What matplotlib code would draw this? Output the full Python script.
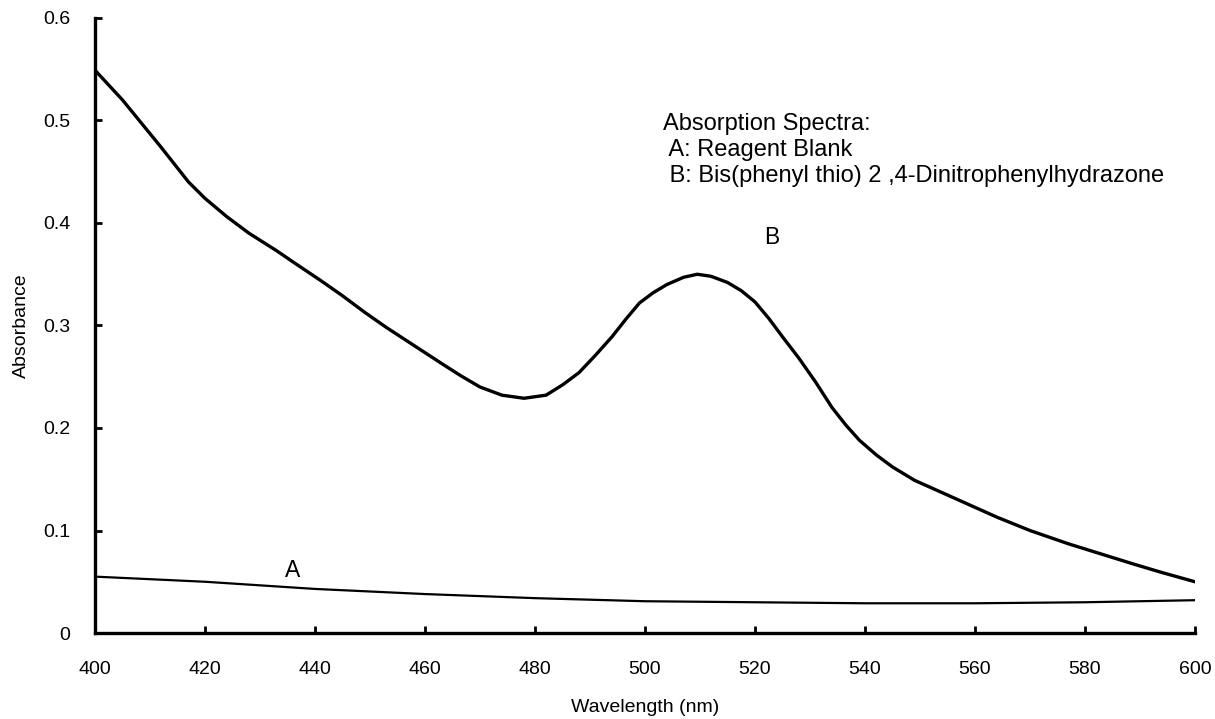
import matplotlib.pyplot as plt

plt.rcParams['font.family'] = ['Liberation Sans', 'DejaVu Sans']

# curve B: bis(phenyl thio) 2,4-dinitrophenylhydrazone
wl_b = [400, 405, 412, 417, 420, 424, 428, 433, 436, 441, 445, 449, 453, 457, 463,
        466.5, 470, 474, 478, 482, 485, 488, 491, 494, 496.5, 499, 501.5, 504, 507,
        509.5, 512, 515, 517.5, 520, 522.5, 525, 528, 531, 534, 536.5, 539, 542,
        545, 549, 554, 559, 564, 570, 577, 583, 589, 594, 600]
abs_b = [0.549, 0.520, 0.474, 0.440, 0.424, 0.406, 0.390, 0.373, 0.362, 0.344, 0.329,
         0.313, 0.298, 0.284, 0.263, 0.251, 0.240, 0.232, 0.229, 0.232, 0.242, 0.254,
         0.271, 0.289, 0.306, 0.322, 0.332, 0.340, 0.347, 0.350, 0.348, 0.342, 0.334,
         0.323, 0.307, 0.289, 0.268, 0.245, 0.220, 0.203, 0.188, 0.174, 0.162, 0.149,
         0.137, 0.125, 0.113, 0.100, 0.087, 0.077, 0.067, 0.059, 0.050]

# curve A: reagent blank
wl_a = [400, 420, 440, 460, 480, 500, 520, 540, 560, 580, 600]
abs_a = [0.055, 0.050, 0.043, 0.038, 0.034, 0.031, 0.030, 0.029, 0.029, 0.030, 0.032]

xticks = [400, 420, 440, 460, 480, 500, 520, 540, 560, 580, 600]
yticks = [0, 0.1, 0.2, 0.3, 0.4, 0.5, 0.6]
ylabels = ['0', '0.1', '0.2', '0.3', '0.4', '0.5', '0.6']

fig = plt.figure(figsize=(12.15, 7.19), dpi=100)
ax = fig.add_axes([0.0782, 0.1196, 0.9053, 0.8554])

ax.plot(wl_b, abs_b, color='black', lw=2.4, solid_joinstyle='round')
ax.plot(wl_a, abs_a, color='black', lw=1.6)

ax.set_xlim(400, 600)
ax.set_ylim(0, 0.6)
ax.set_xticks(xticks)
ax.set_yticks(yticks)
ax.set_yticklabels(ylabels)

for s in ['top', 'right']:
    ax.spines[s].set_visible(False)
for s in ['left', 'bottom']:
    ax.spines[s].set_linewidth(2.4)
ax.tick_params(direction='in', length=5, width=2, labelsize=14)
ax.tick_params(axis='x', pad=20)
ax.tick_params(axis='y', pad=18)

ax.set_xlabel('Wavelength (nm)', fontsize=14, labelpad=15)
ax.set_ylabel('Absorbance', fontsize=14, labelpad=9)

ax.text(436, 0.0605, 'A', fontsize=16.5, ha='center', va='center')
ax.text(523.1, 0.386, 'B', fontsize=16.5, ha='center', va='center')
ax.text(503.3, 0.507, 'Absorption Spectra:\n A: Reagent Blank\n B: Bis(phenyl thio) 2 ,4-Dinitrophenylhydrazone',
        fontsize=17, ha='left', va='top', linespacing=1.22)

fig.savefig('out.png', dpi=100)
